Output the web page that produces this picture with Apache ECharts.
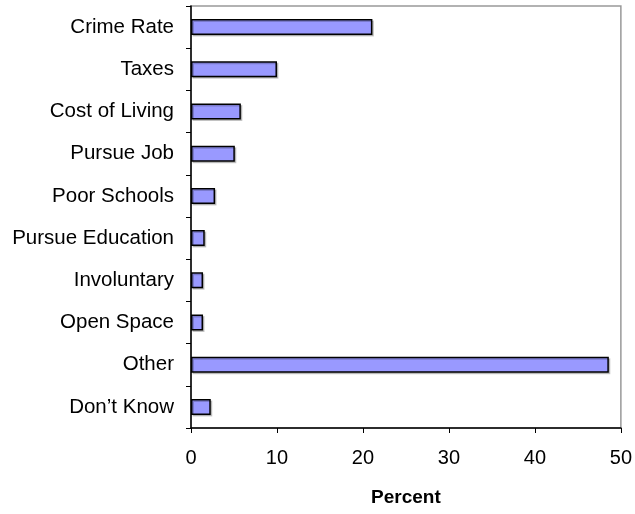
<!DOCTYPE html>
<html>
<head>
<meta charset="utf-8">
<script src="https://cdn.jsdelivr.net/npm/echarts@6/dist/echarts.min.js"></script>
<style>html,body{margin:0;padding:0;background:#fff;}#c{width:635px;height:514px;}</style>
</head>
<body>
<div id="c"></div>
<script>
const categories = ["Crime Rate","Taxes","Cost of Living","Pursue Job","Poor Schools","Pursue Education","Involuntary","Open Space","Other","Don\u2019t Know"];
const values = [21.1, 10.0, 5.8, 5.1, 2.8, 1.6, 1.4, 1.4, 48.6, 2.3];
const xTicks = [0, 10, 20, 30, 40, 50];

const chart = echarts.init(document.getElementById('c'));
chart.setOption({
  animation: false,
  backgroundColor: '#fff',
  grid: {left: 191, right: 13, top: 6, bottom: 86, show: true, borderColor: '#999', borderWidth: 1.5, backgroundColor: 'transparent'},
  xAxis: {
    type: 'value', min: xTicks[0], max: xTicks[xTicks.length-1], interval: 10,
    name: 'Percent', nameLocation: 'middle', nameGap: 60,
    nameTextStyle: {fontFamily: 'Liberation Sans, Arial', fontSize: 19, fontWeight: 'bold', color: '#000'},
    axisLine: {show: true, lineStyle: {color: '#000', width: 1.5}},
    axisTick: {show: true, inside: false, length: 5, lineStyle: {color: '#000'}},
    axisLabel: {fontFamily: 'Liberation Sans, Arial', fontSize: 20, color: '#000', margin: 20},
    splitLine: {show: false}
  },
  yAxis: {
    type: 'category', data: categories, inverse: true,
    axisLine: {show: true, lineStyle: {color: '#000', width: 1.5}},
    axisTick: {show: true, inside: false, length: 5, lineStyle: {color: '#000'}},
    axisLabel: {fontFamily: 'Liberation Sans, Arial', fontSize: 20.5, color: '#000', margin: 17},
    splitLine: {show: false}
  },
  series: [{
    type: 'bar', data: values, barWidth: 16,
    itemStyle: {color: '#9999FF', borderColor: '#000', borderWidth: 1.5,
      shadowColor: 'rgba(0,0,0,0.2)', shadowOffsetX: 1.5, shadowOffsetY: 1.5, shadowBlur: 0}
  }]
});
</script>
</body>
</html>
